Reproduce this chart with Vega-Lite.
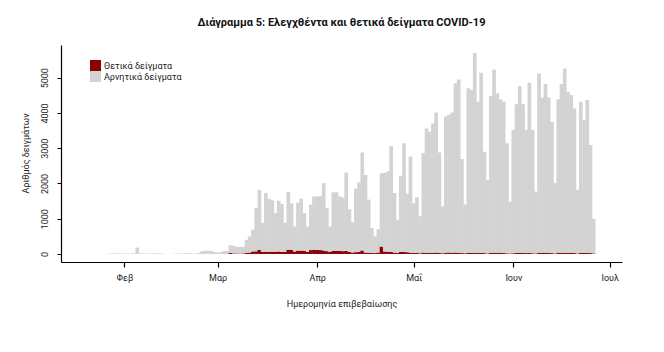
{
  "$schema": "https://vega.github.io/schema/vega-lite/v6.json",
  "width": 561,
  "height": 217,
  "autosize": {"type": "none"},
  "padding": {"left": 61, "top": 45, "right": 42, "bottom": 90},
  "background": "white",
  "config": {"view": {"stroke": null}, "font": "Roboto"},
  "title": {"text": "Διάγραμμα 5: Ελεγχθέντα και θετικά δείγματα COVID-19", "fontSize": 11, "fontWeight": "bold", "font": "Roboto", "color": "#111111", "anchor": "middle", "offset": 17},
  "data": {"values": [
    {"date": "2020-01-20", "pos": 0, "neg": 2},
    {"date": "2020-01-21", "pos": 0, "neg": 0},
    {"date": "2020-01-22", "pos": 0, "neg": 0},
    {"date": "2020-01-23", "pos": 0, "neg": 0},
    {"date": "2020-01-24", "pos": 0, "neg": 0},
    {"date": "2020-01-25", "pos": 0, "neg": 0},
    {"date": "2020-01-26", "pos": 0, "neg": 0},
    {"date": "2020-01-27", "pos": 0, "neg": 10},
    {"date": "2020-01-28", "pos": 0, "neg": 12},
    {"date": "2020-01-29", "pos": 0, "neg": 15},
    {"date": "2020-01-30", "pos": 0, "neg": 14},
    {"date": "2020-01-31", "pos": 0, "neg": 18},
    {"date": "2020-02-01", "pos": 0, "neg": 12},
    {"date": "2020-02-02", "pos": 0, "neg": 10},
    {"date": "2020-02-03", "pos": 0, "neg": 15},
    {"date": "2020-02-04", "pos": 0, "neg": 20},
    {"date": "2020-02-05", "pos": 0, "neg": 180},
    {"date": "2020-02-06", "pos": 0, "neg": 20},
    {"date": "2020-02-07", "pos": 0, "neg": 15},
    {"date": "2020-02-08", "pos": 0, "neg": 10},
    {"date": "2020-02-09", "pos": 0, "neg": 12},
    {"date": "2020-02-10", "pos": 0, "neg": 15},
    {"date": "2020-02-11", "pos": 0, "neg": 18},
    {"date": "2020-02-12", "pos": 0, "neg": 15},
    {"date": "2020-02-13", "pos": 0, "neg": 10},
    {"date": "2020-02-14", "pos": 0, "neg": 0},
    {"date": "2020-02-15", "pos": 0, "neg": 0},
    {"date": "2020-02-16", "pos": 0, "neg": 5},
    {"date": "2020-02-17", "pos": 0, "neg": 10},
    {"date": "2020-02-18", "pos": 0, "neg": 12},
    {"date": "2020-02-19", "pos": 0, "neg": 15},
    {"date": "2020-02-20", "pos": 0, "neg": 18},
    {"date": "2020-02-21", "pos": 0, "neg": 20},
    {"date": "2020-02-22", "pos": 0, "neg": 15},
    {"date": "2020-02-23", "pos": 0, "neg": 12},
    {"date": "2020-02-24", "pos": 0, "neg": 25},
    {"date": "2020-02-25", "pos": 0, "neg": 70},
    {"date": "2020-02-26", "pos": 1, "neg": 89},
    {"date": "2020-02-27", "pos": 2, "neg": 88},
    {"date": "2020-02-28", "pos": 1, "neg": 84},
    {"date": "2020-02-29", "pos": 0, "neg": 50},
    {"date": "2020-03-01", "pos": 0, "neg": 45},
    {"date": "2020-03-02", "pos": 0, "neg": 50},
    {"date": "2020-03-03", "pos": 2, "neg": 78},
    {"date": "2020-03-04", "pos": 5, "neg": 85},
    {"date": "2020-03-05", "pos": 30, "neg": 215},
    {"date": "2020-03-06", "pos": 15, "neg": 215},
    {"date": "2020-03-07", "pos": 12, "neg": 188},
    {"date": "2020-03-08", "pos": 10, "neg": 190},
    {"date": "2020-03-09", "pos": 15, "neg": 185},
    {"date": "2020-03-10", "pos": 30, "neg": 370},
    {"date": "2020-03-11", "pos": 40, "neg": 460},
    {"date": "2020-03-12", "pos": 70, "neg": 620},
    {"date": "2020-03-13", "pos": 75, "neg": 1225},
    {"date": "2020-03-14", "pos": 120, "neg": 1700},
    {"date": "2020-03-15", "pos": 60, "neg": 820},
    {"date": "2020-03-16", "pos": 60, "neg": 1670},
    {"date": "2020-03-17", "pos": 55, "neg": 1505},
    {"date": "2020-03-18", "pos": 65, "neg": 1455},
    {"date": "2020-03-19", "pos": 60, "neg": 1100},
    {"date": "2020-03-20", "pos": 70, "neg": 1440},
    {"date": "2020-03-21", "pos": 60, "neg": 1360},
    {"date": "2020-03-22", "pos": 60, "neg": 820},
    {"date": "2020-03-23", "pos": 120, "neg": 1640},
    {"date": "2020-03-24", "pos": 120, "neg": 1320},
    {"date": "2020-03-25", "pos": 70, "neg": 710},
    {"date": "2020-03-26", "pos": 95, "neg": 1365},
    {"date": "2020-03-27", "pos": 95, "neg": 1475},
    {"date": "2020-03-28", "pos": 90, "neg": 1070},
    {"date": "2020-03-29", "pos": 60, "neg": 720},
    {"date": "2020-03-30", "pos": 110, "neg": 1290},
    {"date": "2020-03-31", "pos": 120, "neg": 1510},
    {"date": "2020-04-01", "pos": 115, "neg": 1515},
    {"date": "2020-04-02", "pos": 110, "neg": 1530},
    {"date": "2020-04-03", "pos": 100, "neg": 1910},
    {"date": "2020-04-04", "pos": 80, "neg": 1220},
    {"date": "2020-04-05", "pos": 60, "neg": 720},
    {"date": "2020-04-06", "pos": 85, "neg": 1665},
    {"date": "2020-04-07", "pos": 90, "neg": 1660},
    {"date": "2020-04-08", "pos": 85, "neg": 1545},
    {"date": "2020-04-09", "pos": 80, "neg": 1520},
    {"date": "2020-04-10", "pos": 85, "neg": 2225},
    {"date": "2020-04-11", "pos": 60, "neg": 1210},
    {"date": "2020-04-12", "pos": 40, "neg": 860},
    {"date": "2020-04-13", "pos": 50, "neg": 1800},
    {"date": "2020-04-14", "pos": 55, "neg": 1975},
    {"date": "2020-04-15", "pos": 100, "neg": 2780},
    {"date": "2020-04-16", "pos": 40, "neg": 2200},
    {"date": "2020-04-17", "pos": 35, "neg": 1505},
    {"date": "2020-04-18", "pos": 30, "neg": 705},
    {"date": "2020-04-19", "pos": 25, "neg": 475},
    {"date": "2020-04-20", "pos": 40, "neg": 660},
    {"date": "2020-04-21", "pos": 210, "neg": 2080},
    {"date": "2020-04-22", "pos": 70, "neg": 2230},
    {"date": "2020-04-23", "pos": 65, "neg": 2275},
    {"date": "2020-04-24", "pos": 60, "neg": 3000},
    {"date": "2020-04-25", "pos": 40, "neg": 1690},
    {"date": "2020-04-26", "pos": 30, "neg": 940},
    {"date": "2020-04-27", "pos": 55, "neg": 2165},
    {"date": "2020-04-28", "pos": 55, "neg": 3085},
    {"date": "2020-04-29", "pos": 50, "neg": 1660},
    {"date": "2020-04-30", "pos": 35, "neg": 2725},
    {"date": "2020-05-01", "pos": 30, "neg": 1410},
    {"date": "2020-05-02", "pos": 35, "neg": 1575},
    {"date": "2020-05-03", "pos": 20, "neg": 1050},
    {"date": "2020-05-04", "pos": 40, "neg": 2820},
    {"date": "2020-05-05", "pos": 30, "neg": 3530},
    {"date": "2020-05-06", "pos": 35, "neg": 3435},
    {"date": "2020-05-07", "pos": 30, "neg": 3670},
    {"date": "2020-05-08", "pos": 40, "neg": 3970},
    {"date": "2020-05-09", "pos": 30, "neg": 2850},
    {"date": "2020-05-10", "pos": 20, "neg": 1330},
    {"date": "2020-05-11", "pos": 35, "neg": 3875},
    {"date": "2020-05-12", "pos": 40, "neg": 3910},
    {"date": "2020-05-13", "pos": 35, "neg": 3975},
    {"date": "2020-05-14", "pos": 40, "neg": 4800},
    {"date": "2020-05-15", "pos": 30, "neg": 4920},
    {"date": "2020-05-16", "pos": 25, "neg": 2665},
    {"date": "2020-05-17", "pos": 20, "neg": 1380},
    {"date": "2020-05-18", "pos": 35, "neg": 4665},
    {"date": "2020-05-19", "pos": 35, "neg": 4615},
    {"date": "2020-05-20", "pos": 30, "neg": 5670},
    {"date": "2020-05-21", "pos": 35, "neg": 4285},
    {"date": "2020-05-22", "pos": 30, "neg": 5110},
    {"date": "2020-05-23", "pos": 25, "neg": 2875},
    {"date": "2020-05-24", "pos": 15, "neg": 2085},
    {"date": "2020-05-25", "pos": 30, "neg": 4450},
    {"date": "2020-05-26", "pos": 35, "neg": 5195},
    {"date": "2020-05-27", "pos": 30, "neg": 4520},
    {"date": "2020-05-28", "pos": 30, "neg": 4360},
    {"date": "2020-05-29", "pos": 25, "neg": 4295},
    {"date": "2020-05-30", "pos": 20, "neg": 3120},
    {"date": "2020-05-31", "pos": 15, "neg": 1475},
    {"date": "2020-06-01", "pos": 20, "neg": 3500},
    {"date": "2020-06-02", "pos": 30, "neg": 4220},
    {"date": "2020-06-03", "pos": 35, "neg": 4725},
    {"date": "2020-06-04", "pos": 30, "neg": 4220},
    {"date": "2020-06-05", "pos": 25, "neg": 3495},
    {"date": "2020-06-06", "pos": 30, "neg": 4830},
    {"date": "2020-06-07", "pos": 20, "neg": 3500},
    {"date": "2020-06-08", "pos": 15, "neg": 1755},
    {"date": "2020-06-09", "pos": 35, "neg": 5085},
    {"date": "2020-06-10", "pos": 30, "neg": 4410},
    {"date": "2020-06-11", "pos": 35, "neg": 4785},
    {"date": "2020-06-12", "pos": 30, "neg": 4410},
    {"date": "2020-06-13", "pos": 25, "neg": 3725},
    {"date": "2020-06-14", "pos": 15, "neg": 1995},
    {"date": "2020-06-15", "pos": 30, "neg": 4360},
    {"date": "2020-06-16", "pos": 35, "neg": 4785},
    {"date": "2020-06-17", "pos": 30, "neg": 5230},
    {"date": "2020-06-18", "pos": 35, "neg": 4565},
    {"date": "2020-06-19", "pos": 30, "neg": 4480},
    {"date": "2020-06-20", "pos": 25, "neg": 4105},
    {"date": "2020-06-21", "pos": 15, "neg": 1805},
    {"date": "2020-06-22", "pos": 30, "neg": 4290},
    {"date": "2020-06-23", "pos": 35, "neg": 3765},
    {"date": "2020-06-24", "pos": 30, "neg": 4340},
    {"date": "2020-06-25", "pos": 25, "neg": 3065},
    {"date": "2020-06-26", "pos": 15, "neg": 985}
  ]},
  "transform": [{"fold": ["pos", "neg"], "as": ["key", "value"]}],
  "mark": {"type": "bar", "width": 3.7},
  "encoding": {
    "x": {
      "field": "date", "type": "temporal",
      "scale": {"type": "utc", "domain": [
        {"year": 2020, "month": 1, "date": 13, "hours": 20, "utc": true},
        {"year": 2020, "month": 7, "date": 3, "hours": 6, "utc": true}
      ]},
      "axis": {
        "title": "Ημερομηνία επιβεβαίωσης",
        "values": [
          {"year": 2020, "month": 2, "date": 1, "utc": true},
          {"year": 2020, "month": 3, "date": 1, "utc": true},
          {"year": 2020, "month": 4, "date": 1, "utc": true},
          {"year": 2020, "month": 5, "date": 1, "utc": true},
          {"year": 2020, "month": 6, "date": 1, "utc": true},
          {"year": 2020, "month": 7, "date": 1, "utc": true}
        ],
        "labelExpr": "['Ιαν','Φεβ','Μαρ','Απρ','Μαΐ','Ιουν','Ιουλ'][utcmonth(datum.value)]",
        "grid": false, "domainColor": "#000000", "domainWidth": 1.2, "tickColor": "#000000", "tickWidth": 1.2, "tickSize": 5,
        "labelFont": "Roboto", "labelFontSize": 9, "labelColor": "#222222", "labelPadding": 6, "labelBaseline": "top", "labelAngle": 0,
        "titleFont": "Roboto", "titleFontSize": 9, "titleFontWeight": "normal", "titleColor": "#222222",
        "titleY": 41, "titleBaseline": "middle"
      }
    },
    "y": {
      "field": "value", "type": "quantitative", "stack": "zero",
      "scale": {"domain": [-228, 5928], "nice": false, "zero": false},
      "axis": {
        "title": "Αριθμός δειγμάτων",
        "values": [0, 1000, 2000, 3000, 4000, 5000],
        "format": "d",
        "grid": false, "domainColor": "#000000", "domainWidth": 1.2, "tickColor": "#000000", "tickWidth": 1, "tickSize": 4,
        "labelFont": "Roboto", "labelFontSize": 9, "labelColor": "#222222", "labelAngle": 270, "labelAlign": "center", "labelBaseline": "bottom", "labelPadding": 8,
        "titleFont": "Roboto", "titleFontSize": 9, "titleFontWeight": "normal", "titleColor": "#222222",
        "titleAngle": 270, "titleX": -36, "titleY": 108, "titleAlign": "center", "titleBaseline": "middle"
      }
    },
    "color": {
      "field": "key", "type": "nominal",
      "scale": {"domain": ["pos", "neg"], "range": ["#8b0000", "#d3d3d3"]},
      "legend": {
        "orient": "none", "legendX": 29, "legendY": 15, "title": null, "padding": 0,
        "symbolType": "square", "symbolSize": 121, "symbolStrokeWidth": 0, "symbolOpacity": 1,
        "rowPadding": 0, "labelOffset": 3, "labelFont": "Roboto", "labelFontSize": 9, "labelColor": "#222222",
        "labelExpr": "datum.label == 'pos' ? 'Θετικά δείγματα' : 'Αρνητικά δείγματα'"
      }
    },
    "order": {"field": "key", "sort": "descending"}
  }
}
